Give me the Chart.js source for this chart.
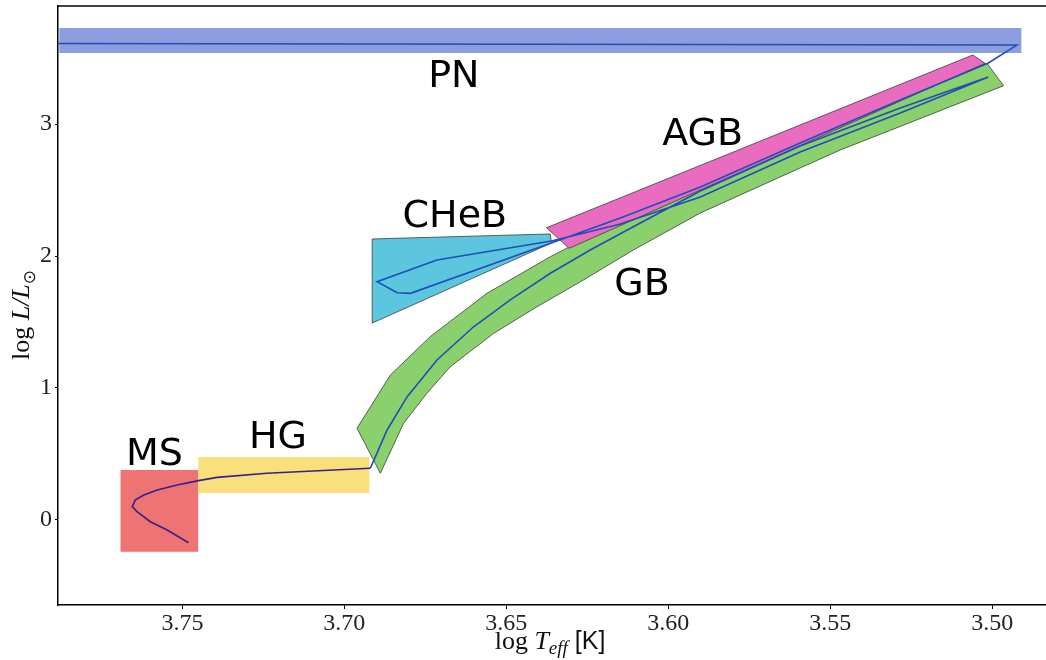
<!DOCTYPE html>
<html>
<head>
<meta charset="utf-8">
<script src="https://cdn.jsdelivr.net/npm/chart.js@4/dist/chart.umd.min.js"></script>
<style>
  html, body { margin: 0; padding: 0; background: #fff; }
  canvas { display: block; }
</style>
</head>
<body>
<canvas id="hrd" width="1046" height="660"></canvas>
<script>
// axis ticks
const xTickValues = [3.75, 3.70, 3.65, 3.60, 3.55, 3.50];
const yTickValues = [0, 1, 2, 3];

// evolutionary phase regions (log Teff, log L)
const pnBandX = [3.7880, 3.4910, 3.4910, 3.7880];
const pnBandY = [3.727, 3.727, 3.538, 3.538];
const msBoxX = [3.7691, 3.7451, 3.7451, 3.7691];
const msBoxY = [0.379, 0.379, -0.240, -0.240];
const hgBoxX = [3.7451, 3.6923, 3.6923, 3.7451];
const hgBoxY = [0.477, 0.477, 0.205, 0.205];
const chebX = [3.6914, 3.6364, 3.6361, 3.6914];
const chebY = [2.129, 2.167, 2.098, 1.492];
const agbX = [3.6376, 3.5060, 3.5022, 3.6306];
const agbY = [2.214, 3.523, 3.460, 2.058];
const gbX = [3.6961, 3.6858, 3.6735, 3.6560, 3.6364, 3.6157, 3.5901, 3.5593, 3.5016,
             3.4965, 3.5469, 3.5593, 3.5901, 3.6108, 3.6262, 3.6405, 3.6539, 3.6673, 3.6745, 3.6817, 3.6889];
const gbY = [0.695, 1.098, 1.389, 1.717, 1.995, 2.258, 2.553, 2.894, 3.460,
             3.290, 2.803, 2.667, 2.326, 2.045, 1.818, 1.616, 1.414, 1.161, 0.960, 0.733, 0.354];

// stellar track: main sequence + Hertzsprung gap
const msTrackX = [3.7481, 3.7547, 3.7599, 3.7640, 3.7655, 3.7645, 3.7619, 3.7578, 3.7516, 3.7450, 3.7393, 3.7239, 3.7033, 3.6920];
const msTrackY = [-0.172, -0.076, -0.013, 0.063, 0.101, 0.152, 0.189, 0.227, 0.265, 0.298, 0.323, 0.354, 0.379, 0.392];
// stellar track: giant branch -> CHeB -> AGB -> PN
const postTrackX = [3.6920, 3.6904, 3.6868, 3.6806, 3.6714, 3.6601, 3.6488, 3.6364, 3.6241, 3.6108, 3.5901, 3.5593, 3.5284, 3.5012,
                    3.5284, 3.5593, 3.5901, 3.6148, 3.6272, 3.6361,
                    3.6714, 3.6899, 3.6837, 3.6796, 3.6361,
                    3.6148, 3.5901, 3.5593, 3.5284, 3.5012, 3.4924, 3.7900];
const postTrackY = [0.392, 0.480, 0.682, 0.934, 1.212, 1.464, 1.667, 1.869, 2.045, 2.222, 2.492, 2.833, 3.121, 3.356,
                    3.083, 2.788, 2.447, 2.242, 2.167, 2.114,
                    1.970, 1.805, 1.722, 1.717, 2.098,
                    2.288, 2.523, 2.856, 3.182, 3.462, 3.598, 3.610];

// region labels
const phaseNames = ['PN', 'AGB', 'CHeB', 'GB', 'HG', 'MS'];
const phaseLabelX = [3.6662, 3.5894, 3.6659, 3.6081, 3.7205, 3.7586];
const phaseLabelY = [3.280, 2.841, 2.220, 1.705, 0.545, 0.417];

function pts(xs, ys, close) {
    const out = xs.map((x, i) => ({x: x, y: ys[i]}));
    if (close) out.push({x: xs[0], y: ys[0]});
    return out;
}

function region(xs, ys, fillColor, edge, order) {
    return {
        data: pts(xs, ys, true),
        showLine: true,
        fill: 'shape',
        backgroundColor: fillColor,
        borderColor: edge ? '#3c3c3c' : 'rgba(0,0,0,0)',
        borderWidth: edge ? 0.8 : 0,
        pointRadius: 0,
        order: order
    };
}

const overlay = {
    id: 'overlay',
    afterDraw(chart) {
        const ctx = chart.ctx;
        const area = chart.chartArea;
        const xs = chart.scales.x;
        const ys = chart.scales.y;
        ctx.save();
        // top frame line
        ctx.strokeStyle = '#000';
        ctx.lineWidth = 1.5;
        ctx.beginPath();
        ctx.moveTo(area.left, area.top);
        ctx.lineTo(area.right, area.top);
        ctx.stroke();

        // phase labels
        ctx.fillStyle = '#000';
        ctx.font = '38px "DejaVu Sans"';
        ctx.textAlign = 'center';
        ctx.textBaseline = 'alphabetic';
        phaseNames.forEach((name, i) => {
            ctx.fillText(name, xs.getPixelForValue(phaseLabelX[i]), ys.getPixelForValue(phaseLabelY[i]));
        });

        // axis titles, built from pieces
        const drawPieces = (pieces, cx, cy) => {
            ctx.textAlign = 'left';
            let total = 0;
            pieces.forEach(p => { ctx.font = p.font; p.w = ctx.measureText(p.t).width; total += p.w; });
            let x = cx - total / 2;
            pieces.forEach(p => {
                ctx.font = p.font;
                ctx.fillText(p.t, x, cy + (p.dy || 0));
                x += p.w;
            });
        };
        ctx.fillStyle = '#111';
        drawPieces([
            {t: 'log ', font: '26px "Liberation Serif"'},
            {t: 'T', font: 'italic 26px "Liberation Serif"'},
            {t: 'eff', font: 'italic 19px "Liberation Serif"', dy: 5},
            {t: ' [K]', font: '25px "Liberation Sans"'}
        ], 550, 649);

        ctx.translate(29, 315);
        ctx.rotate(-Math.PI / 2);
        drawPieces([
            {t: 'log ', font: '26px "Liberation Serif"'},
            {t: 'L/L', font: 'italic 26px "Liberation Serif"'},
            {t: '\u2299', font: '17px "DejaVu Sans"', dy: 6}
        ], 0, 0);
        ctx.restore();
    }
};

new Chart(document.querySelector('#hrd'), {
    type: 'scatter',
    data: {
        datasets: [
            {
                data: pts(msTrackX, msTrackY),
                showLine: true,
                borderColor: '#3a1f8c',
                borderWidth: 1.6,
                pointRadius: 0,
                fill: false,
                order: 1
            },
            {
                data: pts(postTrackX, postTrackY),
                showLine: true,
                borderColor: '#1f4fb8',
                borderWidth: 1.6,
                pointRadius: 0,
                fill: false,
                order: 2
            },
            region(agbX, agbY, '#e96cc0', true, 5),
            region(gbX, gbY, '#8ad06c', true, 6),
            region(chebX, chebY, '#5cc6df', true, 7),
            region(hgBoxX, hgBoxY, '#f8e07c', false, 8),
            region(msBoxX, msBoxY, '#ee7373', false, 8),
            region(pnBandX, pnBandY, '#8c9de0', false, 9)
        ]
    },
    options: {
        responsive: false,
        animation: false,
        layout: { padding: { top: 6, right: 0, left: 0, bottom: 0 } },
        plugins: {
            legend: { display: false },
            tooltip: { enabled: false }
        },
        scales: {
            x: {
                type: 'linear',
                reverse: true,
                min: 3.4834,
                max: 3.7884,
                afterFit: s => { s.height = 55; s.paddingLeft = 0; s.paddingRight = 0; },
                afterBuildTicks: s => { s.ticks = xTickValues.map(v => ({value: v})); },
                grid: { drawOnChartArea: false, tickLength: 4, color: '#000' },
                border: { color: '#000', width: 1.5 },
                ticks: {
                    callback: v => Number(v).toFixed(2),
                    font: { family: 'Liberation Serif', size: 24 },
                    color: '#222',
                    padding: 0,
                    maxRotation: 0
                }
            },
            y: {
                min: -0.644,
                max: 3.894,
                afterFit: s => { s.width = 58; s.paddingTop = 0; s.paddingBottom = 0; },
                afterBuildTicks: s => { s.ticks = yTickValues.map(v => ({value: v})); },
                grid: { drawOnChartArea: false, tickLength: 3, color: '#000' },
                border: { color: '#000', width: 1.5 },
                ticks: {
                    callback: v => String(v),
                    font: { family: 'Liberation Serif', size: 24 },
                    color: '#222',
                    padding: 3
                }
            }
        }
    },
    plugins: [overlay]
});
</script>
</body>
</html>
